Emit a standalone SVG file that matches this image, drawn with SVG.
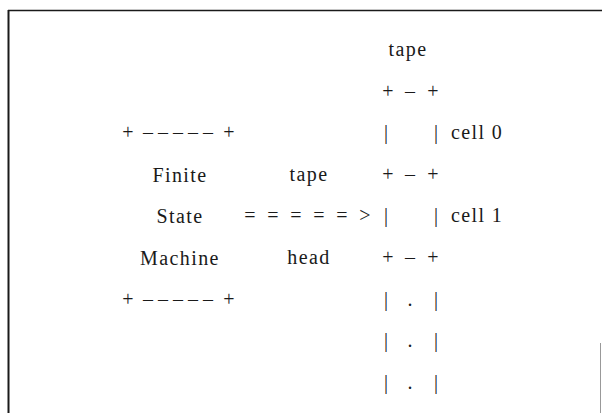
<svg xmlns="http://www.w3.org/2000/svg" width="602" height="413" viewBox="0 0 602 413">
<style>
text{font-family:"Liberation Serif","Times New Roman",serif;font-size:20px;fill:#1a1a1a;text-anchor:middle}
.w{letter-spacing:1.4px}
.fr{stroke:#1a1a1a;fill:none}
</style>
<rect width="602" height="413" fill="#fff"/>
<g id="frame">
<line class="fr" x1="8" y1="10.5" x2="602" y2="10.5" stroke-width="1.5"/>
<line class="fr" x1="8.5" y1="10" x2="8.5" y2="413" stroke-width="2"/>
<line x1="600.5" y1="343" x2="600.5" y2="413" stroke="#999" stroke-width="1"/>
</g>
<g id="fsm">
<text x="128" y="139">+</text><text x="148" y="139">–</text><text x="163" y="139">–</text><text x="178" y="139">–</text><text x="193" y="139">–</text><text x="208" y="139">–</text><text x="229" y="139">+</text>
<text class="w" x="180" y="182">Finite</text>
<text class="w" x="180" y="223">State</text>
<text class="w" x="180" y="265">Machine</text>
<text x="128" y="306">+</text><text x="148" y="306">–</text><text x="163" y="306">–</text><text x="178" y="306">–</text><text x="193" y="306">–</text><text x="208" y="306">–</text><text x="229" y="306">+</text>
</g>
<g id="connectors">
<text class="w" x="309" y="181">tape</text>
<text x="250" y="222">=</text><text x="273" y="222">=</text><text x="296" y="222">=</text><text x="319" y="222">=</text><text x="342" y="222">=</text><text x="365" y="222">&gt;</text>
<text class="w" x="309" y="264">head</text>
</g>
<g id="tape">
<text class="w" x="408" y="56">tape</text>
<text x="388" y="98">+</text><text x="410" y="98">–</text><text x="433" y="98">+</text>
<text x="386" y="139">|</text><text x="436" y="139">|</text><text class="w" x="451" y="139" style="text-anchor:start">cell 0</text>
<text x="388" y="181">+</text><text x="410" y="181">–</text><text x="433" y="181">+</text>
<text x="386" y="222">|</text><text x="436" y="222">|</text><text class="w" x="451" y="222" style="text-anchor:start">cell 1</text>
<text x="388" y="264">+</text><text x="410" y="264">–</text><text x="433" y="264">+</text>
<text x="386" y="306">|</text><text x="410" y="306">.</text><text x="436" y="306">|</text>
<text x="386" y="347">|</text><text x="410" y="347">.</text><text x="436" y="347">|</text>
<text x="386" y="389">|</text><text x="410" y="389">.</text><text x="436" y="389">|</text>
</g>
</svg>
